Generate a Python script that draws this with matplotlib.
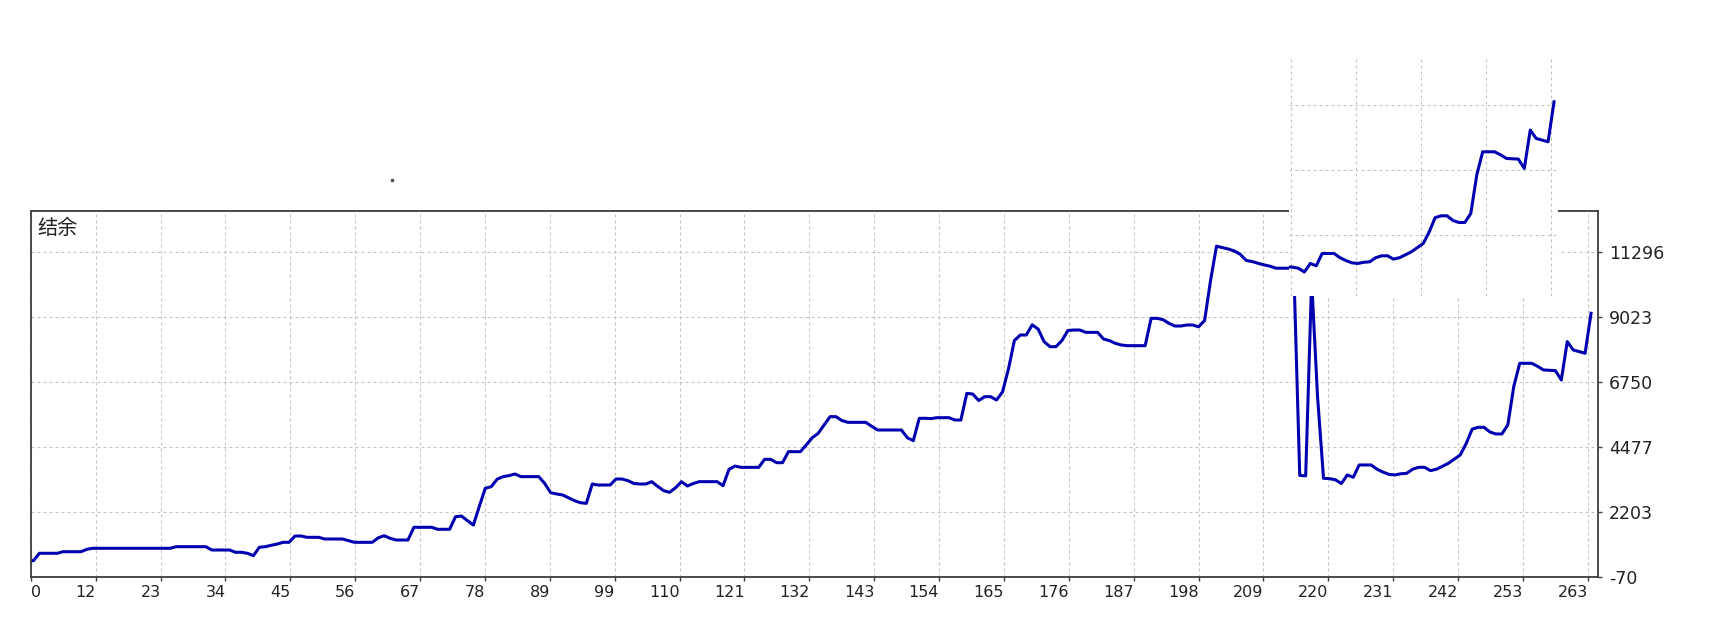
import numpy as np
import matplotlib.pyplot as plt

plt.rcParams['font.family'] = ['DejaVu Sans']

# balance per bar
balance = [
    500, 500, 759, 759, 759, 759, 815, 815, 815, 815,
    900, 934, 934, 934, 934, 934, 934, 934, 934, 934,
    934, 934, 934, 934, 934, 990, 990, 990, 990, 990,
    990, 874, 874, 874, 874, 794, 794, 759, 675, 969,
    990, 1039, 1084, 1143, 1143, 1364, 1364, 1318, 1318, 1318,
    1259, 1259, 1259, 1259, 1200, 1143, 1143, 1143, 1143, 1300,
    1374, 1283, 1224, 1224, 1224, 1668, 1668, 1668, 1668, 1598,
    1598, 1598, 2039, 2062, 1900, 1748, 2400, 3032, 3090, 3350,
    3440, 3475, 3532, 3440, 3440, 3440, 3440, 3200, 2878, 2833,
    2800, 2700, 2600, 2528, 2506, 3182, 3147, 3147, 3147, 3357,
    3357, 3299, 3200, 3182, 3182, 3264, 3100, 2950, 2892, 3050,
    3264, 3113, 3200, 3264, 3264, 3264, 3264, 3124, 3695, 3811,
    3765, 3765, 3765, 3765, 4045, 4045, 3928, 3928, 4313, 4313,
    4313, 4550, 4800, 4954, 5250, 5537, 5537, 5400, 5339, 5339,
    5339, 5339, 5200, 5071, 5071, 5071, 5071, 5071, 4800, 4698,
    5480, 5480, 5470, 5502, 5502, 5502, 5420, 5420, 6352, 6329,
    6100, 6236, 6236, 6119, 6400, 7200, 8200, 8393, 8393, 8750,
    8600, 8160, 7985, 7985, 8200, 8550, 8568, 8568, 8486, 8486,
    8486, 8253, 8195, 8100, 8043, 8020, 8020, 8020, 8020, 8976,
    8976, 8930, 8800, 8708, 8708, 8743, 8743, 8680, 8900, 10300,
    11500, 11448, 11400, 11331, 11215, 11000, 10962, 10900, 10845, 10800,
    10729, 10729, 10729, 10729, 3480, 3470, 10300, 6225, 3382, 3370,
    3330, 3200, 3499, 3417, 3848, 3848, 3848, 3700, 3600, 3520,
    3499, 3540, 3557, 3700, 3766, 3766, 3650, 3700, 3800, 3906,
    4050, 4198, 4600, 5100, 5165, 5165, 5000, 4932, 4932, 5247,
    6588, 7404, 7404, 7404, 7300, 7171, 7160, 7148, 6821, 8162,
    7870, 7812, 7754, 9153,
]

x_labels = ["0", "12", "23", "34", "45", "56", "67", "78", "89", "99",
            "110", "121", "132", "143", "154", "165", "176", "187", "198",
            "209", "220", "231", "242", "253", "263"]
y_ticks = [-70, 2203, 4477, 6750, 9023, 11296]
y_labels = [str(v) for v in y_ticks]
title = "结余"

bars = np.arange(len(balance))

W, H = 1728, 641
line_color = '#0000b0'
grid_kw = dict(color='#c4c4c4', linestyle=(0, (2.7, 2.7)), linewidth=0.8)

# x scale: gridlines every ~10.9 bars, first one just before bar 12
x_left, x_right = 0.59, 264.17
x_grid = [11.47 + 10.913 * k for k in range(len(x_labels) - 1)]
x_ticks = [x_left] + x_grid

fig = plt.figure(figsize=(W / 100, H / 100), dpi=100)
ax = fig.add_axes([31 / W, (H - 577) / H, 1567 / W, 366 / H])
ax.plot(bars, balance, color=line_color, linewidth=2.2, solid_joinstyle='round')

ax.set_xticks(x_ticks)
ax.set_xticklabels(x_labels, fontsize=11.5, color='#222222')
for lab in ax.get_xticklabels():
    lab.set_horizontalalignment('right')
ax.get_xticklabels()[0].set_horizontalalignment('left')
ax.yaxis.tick_right()
ax.set_yticks(y_ticks)
ax.set_yticklabels(y_labels, fontsize=12.5, color='#222222')
ax.set_xlim(x_left, x_right)
ax.set_ylim(-70, 12730)
ax.tick_params(axis='x', length=3, width=1, color='#404040', pad=3)
ax.tick_params(axis='y', length=3, width=1, color='#404040', pad=5)
ax.grid(True, **grid_kw)
for s in ax.spines.values():
    s.set_color('#3c3c3c')
    s.set_linewidth(1.3)

ax.text(0.004, 0.982, title, transform=ax.transAxes, va='top', ha='left',
        fontsize=14.5, color='#222222', family=['Noto Sans CJK SC', 'DejaVu Sans'])

# pasted patch: the tail of the curve, shifted up and left
px_dx, px_dy = 37, 211.5
p_left, p_right, p_top, p_bot = 1289, 1558, 59, 296
ppb = 5.945          # pixels per bar
ppv = 366 / 12800    # pixels per unit of balance
inset = fig.add_axes([p_left / W, (H - p_bot) / H, (p_right - p_left) / W,
                      (p_bot - p_top) / H], zorder=5)
inset.set_facecolor('white')
inset.plot(bars, balance, color=line_color, linewidth=2.2, solid_joinstyle='round')
inset.set_xticks(x_grid)
inset.set_yticks(y_ticks)
inset.set_xlim(x_left + (p_left + px_dx - 31) / ppb, x_left + (p_right + px_dx - 31) / ppb)
inset.set_ylim(-70 + (577 - p_bot - px_dy) / ppv, -70 + (577 - p_top - px_dy) / ppv)
inset.tick_params(length=0, labelbottom=False, labelleft=False)
inset.grid(True, **grid_kw)
for s in inset.spines.values():
    s.set_visible(False)

fig.add_artist(plt.Rectangle((391 / W, 1 - 181 / H), 1.5 / W, 1.5 / H,
                             color='#555555', transform=fig.transFigure))

fig.savefig('out.png', dpi=100)
